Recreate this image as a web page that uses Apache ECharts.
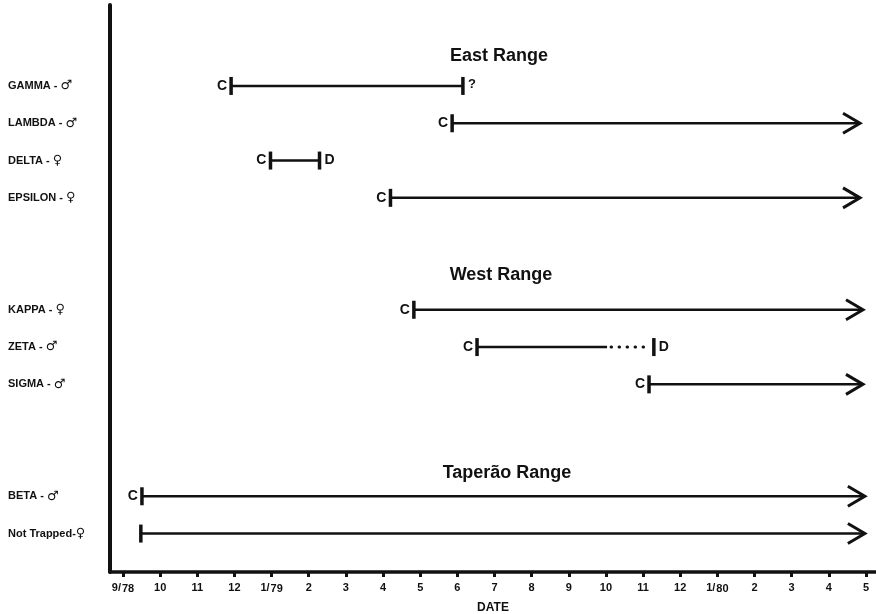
<!DOCTYPE html>
<html>
<head>
<meta charset="utf-8">
<script src="https://cdn.jsdelivr.net/npm/echarts@6/dist/echarts.min.js"></script>
<style>
  html, body { margin: 0; padding: 0; background: #fff; }
  #chart { width: 876px; height: 614px; }
</style>
</head>
<body>
<div id="chart"></div>
<script>
// months are counted from 9/78 (= 0) up to 5/80 (= 20)
const monthLabels = ['9/78', '10', '11', '12', '1/79', '2', '3', '4', '5', '6', '7', '8',
  '9', '10', '11', '12', '1/80', '2', '3', '4', '5']
const monthTicks = monthLabels.map((_, i) => i)

// one entry per animal, top to bottom; slots leave room for the range headings
const animalNames = ['GAMMA - ♂', 'LAMBDA - ♂', 'DELTA - ♀', 'EPSILON - ♀',
  'KAPPA - ♀', 'ZETA - ♂', 'SIGMA - ♂', 'BETA - ♂', 'Not Trapped-♀']
const rowSlots = [2, 3, 4, 5, 8, 9, 10, 13, 14]
const startMonth = [2.91, 8.86, 3.97, 7.2, 7.83, 9.53, 14.16, 0.51, 0.48]
const endMonth = [9.15, 19.84, 5.29, 19.84, 19.92, 14.29, 19.92, 19.97, 19.97]
const solidUntil = [null, null, null, null, null, 13.03, null, null, null]
const startMark = ['C', 'C', 'C', 'C', 'C', 'C', 'C', 'C', '']
const endMark = ['?', 'arrow', 'D', 'arrow', 'arrow', 'D', 'arrow', 'arrow', 'arrow']

const rangeNames = ['East Range', 'West Range', 'Taperão Range']

const ink = '#111'
const markFont = 'bold 14px "Liberation Sans Narrow", "Liberation Sans", sans-serif'
const titleFont = 'bold 18px "Liberation Sans", sans-serif'

function renderRow(params, api) {
  const i = params.dataIndex
  const slot = api.value(2)
  const a = api.coord([api.value(0), slot])
  const b = api.coord([api.value(1), slot])
  const s = solidUntil[i] == null ? b : api.coord([solidUntil[i], slot])
  const y = a[1]
  const kids = []

  kids.push({ type: 'line', shape: { x1: a[0], y1: y, x2: s[0], y2: y },
    style: { stroke: ink, lineWidth: 2.5 } })
  if (s[0] < b[0]) {
    // uncertain stretch drawn as dots
    kids.push({ type: 'line', shape: { x1: s[0] + 4, y1: y, x2: b[0] - 3, y2: y },
      style: { stroke: ink, lineWidth: 3, lineDash: [0.5, 7.5], lineCap: 'round' } })
  }
  kids.push({ type: 'line', shape: { x1: a[0], y1: y - 9, x2: a[0], y2: y + 9 },
    style: { stroke: ink, lineWidth: 3.5 } })
  if (startMark[i]) {
    kids.push({ type: 'text', x: a[0] - 4, y: y,
      style: { text: startMark[i], fill: ink, font: markFont, align: 'right', verticalAlign: 'middle' } })
  }
  if (endMark[i] === 'arrow') {
    kids.push({ type: 'polyline',
      shape: { points: [[b[0] - 17, y - 10], [b[0], y], [b[0] - 17, y + 10]] },
      style: { stroke: ink, lineWidth: 3, fill: null } })
  } else {
    kids.push({ type: 'line', shape: { x1: b[0], y1: y - 9, x2: b[0], y2: y + 9 },
      style: { stroke: ink, lineWidth: 3.5 } })
    kids.push({ type: 'text', x: b[0] + 5, y: y - (endMark[i] === '?' ? 2 : 0),
      style: { text: endMark[i], fill: ink,
        font: endMark[i] === '?' ? 'bold 13px "Liberation Sans Narrow", sans-serif' : markFont,
        align: 'left', verticalAlign: 'middle' } })
  }
  return { type: 'group', children: kids }
}

const chart = echarts.init(document.getElementById('chart'))
chart.setOption({
  animation: false,
  backgroundColor: '#fff',
  grid: { left: 110, right: 0, top: 5, bottom: 42, outerBoundsMode: 'none', containLabel: false },
  xAxis: {
    type: 'value',
    min: -0.35,
    max: 20.27,
    name: 'DATE',
    nameLocation: 'middle',
    nameGap: 30,
    nameTextStyle: { color: ink, fontWeight: 'bold', fontSize: 12, fontFamily: 'Liberation Sans' },
    splitLine: { show: false },
    axisLine: { onZero: false, lineStyle: { color: ink, width: 3.5 } },
    axisTick: { customValues: monthTicks, length: 5, lineStyle: { color: ink, width: 3 } },
    axisLabel: {
      customValues: monthTicks,
      margin: 10,
      color: ink,
      formatter: (v) => {
        const t = monthLabels[Math.round(v)]
        if (t.includes('/')) {
          const [m, yr] = t.split('/')
          return '{a|' + m + '/}{b|' + yr + '}'
        }
        return '{a|' + t + '}'
      },
      rich: {
        a: { fontSize: 11, fontWeight: 'bold', color: ink, lineHeight: 12, verticalAlign: 'top' },
        b: { fontSize: 11, fontWeight: 'bold', color: ink, lineHeight: 12, padding: [10, 0, 0, 1], verticalAlign: 'bottom' },
      },
    },
  },
  yAxis: {
    type: 'value',
    inverse: true,
    min: -0.17,
    max: 15.03,
    splitLine: { show: false },
    axisLine: { show: true, onZero: false, lineStyle: { color: ink, width: 4 } },
    axisTick: { show: false },
    axisLabel: {
      customValues: rowSlots,
      align: 'left',
      margin: 102,
      color: ink,
      formatter: (v) => {
        const name = animalNames[rowSlots.indexOf(v)]
        return '{n|' + name.slice(0, -1) + '}{g|' + name.slice(-1) + '}'
      },
      rich: {
        n: { fontSize: 11, fontWeight: 'bold', color: ink, fontFamily: 'Liberation Sans' },
        g: { fontSize: 13, fontWeight: 'bold', color: ink, fontFamily: 'DejaVu Sans' },
      },
    },
  },
  graphic: [
    { type: 'text', x: 499, y: 56, style: { text: rangeNames[0], fill: ink, font: titleFont, align: 'center', verticalAlign: 'middle' } },
    { type: 'text', x: 501, y: 275, style: { text: rangeNames[1], fill: ink, font: titleFont, align: 'center', verticalAlign: 'middle' } },
    { type: 'text', x: 507, y: 473, style: { text: rangeNames[2], fill: ink, font: titleFont, align: 'center', verticalAlign: 'middle' } },
  ],
  series: [
    {
      type: 'custom',
      renderItem: renderRow,
      encode: { x: [0, 1], y: 2 },
      data: animalNames.map((_, i) => [startMonth[i], endMonth[i], rowSlots[i]]),
      clip: false,
    },
  ],
})
</script>
</body>
</html>
